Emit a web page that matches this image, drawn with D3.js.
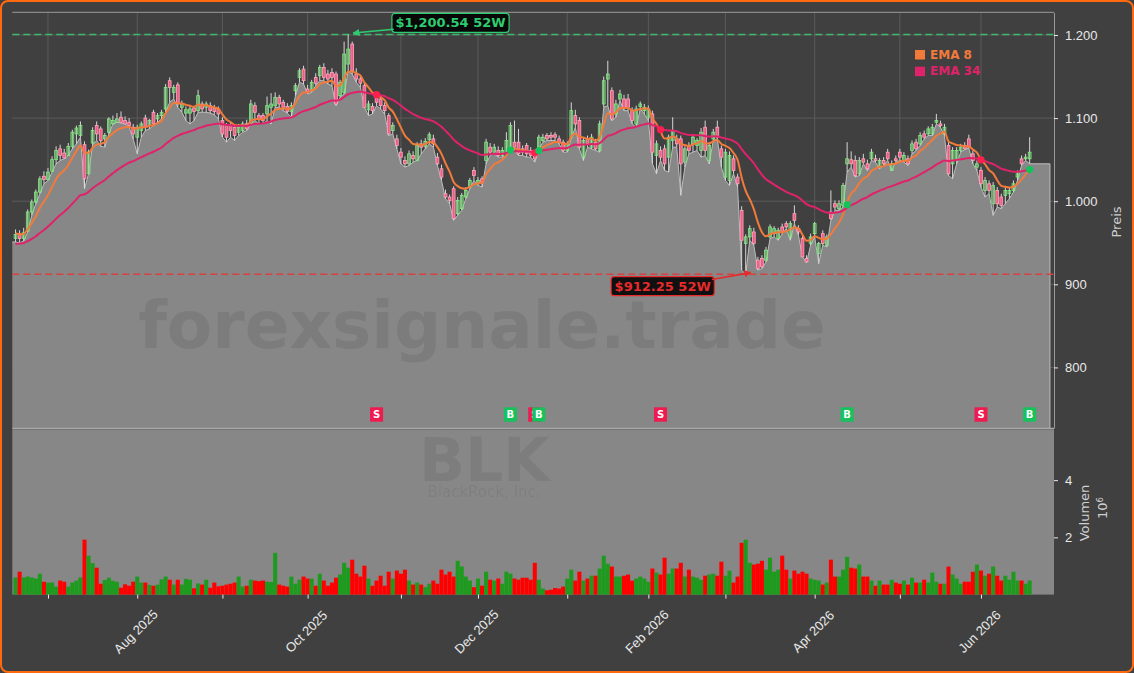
<!DOCTYPE html>
<html>
<head>
<meta charset="utf-8">
<script src="https://cdn.jsdelivr.net/npm/d3@7"></script>
<style>
  html, body { margin: 0; padding: 0; background: #404040; }
  svg { display: block; font-family: 'DejaVu Sans', sans-serif; }
  .axis text { fill: #e8e8e8; font-size: 13px; }
  .axis line { stroke: #e8e8e8; }
  .axisLabel { fill: #cfcfcf; font-size: 13px; }
</style>
</head>
<body>
<svg id="chart"></svg>
<script>
// BLK daily candles, Jun 2025 - Jun 2026 (one entry per trading day)
const opens = [
  955, 961, 955, 964, 987, 999, 1011, 1030, 1026, 1036,
  1050, 1063, 1058, 1055, 1066, 1081, 1079, 1068, 1033, 1070,
  1091, 1087, 1075, 1083, 1093, 1095, 1101, 1097, 1095, 1089,
  1077, 1085, 1100, 1091, 1107, 1099, 1103, 1111, 1145, 1131,
  1140, 1113, 1106, 1106, 1112, 1109, 1117, 1113, 1115, 1112,
  1111, 1097, 1091, 1091, 1089, 1083, 1085, 1093, 1093, 1115,
  1103, 1103, 1105, 1113, 1115, 1125, 1119, 1114, 1108, 1133,
  1149, 1159, 1135, 1133, 1149, 1151, 1161, 1153, 1155, 1153,
  1127, 1131, 1165, 1189, 1153, 1147, 1139, 1110, 1114, 1127,
  1123, 1115, 1103, 1085, 1075, 1059, 1049, 1045, 1055, 1049,
  1069, 1066, 1074, 1075, 1053, 1039, 1009, 1005, 1015, 985,
  991, 1005, 1017, 1037, 1021, 1027, 1049, 1065, 1059, 1061,
  1055, 1057, 1065, 1071, 1071, 1063, 1067, 1061, 1059, 1065,
  1073, 1079, 1079, 1080, 1075, 1071, 1061, 1077, 1103, 1097,
  1053, 1075, 1065, 1071, 1061, 1117, 1147, 1133, 1105, 1123,
  1123, 1123, 1109, 1093, 1114, 1109, 1101, 1105, 1055, 1061,
  1063, 1053, 1073, 1075, 1075, 1047, 1067, 1069, 1067, 1061,
  1089, 1049, 1075, 1089, 1063, 1029, 1025, 1051, 1029, 989,
  949, 957, 963, 929, 931, 929, 957, 961, 955, 969,
  973, 957, 985, 967, 955, 931, 949, 961, 937, 961,
  947, 987, 997, 991, 995, 1045, 1050, 1049, 1033, 1051,
  1045, 1051, 1051, 1041, 1049, 1059, 1037, 1051, 1059, 1049,
  1051, 1061, 1071, 1069, 1081, 1081, 1081, 1095, 1093, 1081,
  1067, 1045, 1049, 1061, 1067, 1075, 1057, 1041, 1037, 1013,
  1021, 997, 1013, 1005, 1007, 1009, 1013, 1029, 1051, 1051,
  1051
];
const highs = [
  966, 965, 968, 990, 1002, 1014, 1030, 1036, 1040, 1054,
  1066, 1068, 1063, 1070, 1086, 1091, 1096, 1072, 1062, 1089,
  1096, 1090, 1082, 1101, 1103, 1106, 1108, 1102, 1100, 1093,
  1092, 1096, 1104, 1099, 1110, 1106, 1110, 1141, 1149, 1140,
  1143, 1121, 1114, 1115, 1115, 1134, 1120, 1120, 1119, 1116,
  1114, 1101, 1094, 1094, 1093, 1093, 1096, 1098, 1122, 1119,
  1106, 1106, 1126, 1130, 1131, 1128, 1122, 1118, 1119, 1142,
  1160, 1163, 1140, 1146, 1154, 1164, 1166, 1158, 1160, 1156,
  1146, 1192, 1200.54, 1192, 1160, 1152, 1143, 1121, 1118, 1132,
  1127, 1119, 1106, 1095, 1080, 1064, 1054, 1061, 1060, 1071,
  1074, 1076, 1083, 1080, 1058, 1044, 1014, 1008, 1018, 1005,
  1010, 1017, 1028, 1041, 1029, 1030, 1075, 1070, 1069, 1066,
  1065, 1083, 1095, 1097, 1087, 1067, 1070, 1065, 1062, 1080,
  1081, 1082, 1083, 1083, 1079, 1074, 1072, 1119, 1110, 1101,
  1077, 1079, 1081, 1075, 1097, 1150, 1169, 1137, 1122, 1134,
  1128, 1129, 1113, 1115, 1120, 1117, 1115, 1109, 1073, 1066,
  1068, 1080, 1101, 1080, 1079, 1066, 1071, 1081, 1076, 1088,
  1097, 1071, 1087, 1097, 1067, 1063, 1060, 1055, 1033, 994,
  960, 971, 968, 933, 935, 945, 972, 970, 968, 973,
  976, 976, 995, 971, 960, 935, 961, 975, 951, 965,
  960, 1013, 1001, 1001, 1022, 1071, 1060, 1055, 1053, 1057,
  1050, 1063, 1056, 1052, 1053, 1063, 1049, 1055, 1063, 1059,
  1055, 1073, 1075, 1083, 1085, 1090, 1093, 1105, 1097, 1093,
  1071, 1065, 1065, 1069, 1071, 1080, 1061, 1049, 1041, 1029,
  1025, 1023, 1017, 1009, 1017, 1017, 1025, 1037, 1055, 1057,
  1077
];
const lows = [
  951, 950, 952, 963, 983, 997, 1009, 1021, 1025, 1035,
  1045, 1049, 1051, 1055, 1063, 1069, 1077, 1015, 1033, 1068,
  1073, 1066, 1065, 1081, 1093, 1095, 1094, 1093, 1089, 1075,
  1057, 1077, 1085, 1087, 1091, 1095, 1099, 1107, 1119, 1123,
  1113, 1107, 1097, 1093, 1097, 1107, 1107, 1107, 1106, 1104,
  1099, 1077, 1071, 1077, 1073, 1079, 1083, 1085, 1093, 1097,
  1093, 1093, 1097, 1093, 1113, 1113, 1109, 1106, 1101, 1127,
  1143, 1141, 1129, 1131, 1139, 1145, 1145, 1141, 1139, 1115,
  1125, 1129, 1157, 1153, 1143, 1137, 1113, 1103, 1105, 1115,
  1111, 1105, 1079, 1081, 1063, 1045, 1041, 1043, 1047, 1049,
  1057, 1063, 1069, 1065, 1043, 1025, 1003, 997, 977, 983,
  989, 1003, 1015, 1025, 1019, 1017, 1045, 1055, 1057, 1053,
  1053, 1055, 1063, 1061, 1055, 1055, 1053, 1053, 1047, 1063,
  1071, 1073, 1073, 1073, 1069, 1059, 1059, 1075, 1089, 1063,
  1049, 1065, 1063, 1061, 1059, 1113, 1115, 1097, 1101, 1121,
  1109, 1109, 1093, 1089, 1111, 1105, 1097, 1045, 1033, 1049,
  1037, 1035, 1065, 1065, 1007, 1041, 1057, 1059, 1061, 1053,
  1055, 1045, 1073, 1075, 1041, 1025, 1019, 1033, 1017, 917,
  912.25, 953, 947, 917, 919, 927, 955, 957, 953, 961,
  967, 953, 973, 959, 933, 926, 947, 957, 925, 947,
  945, 977, 989, 989, 993, 1035, 1041, 1029, 1031, 1045,
  1037, 1049, 1047, 1039, 1043, 1049, 1037, 1047, 1049, 1047,
  1043, 1057, 1061, 1067, 1075, 1079, 1079, 1093, 1089, 1079,
  1031, 1027, 1045, 1059, 1062, 1064, 1045, 1037, 1017, 1005,
  1009, 983, 993, 991, 997, 1003, 1011, 1025, 1043, 1049,
  1045
];
const closes = [
  960, 955, 962, 987, 999, 1011, 1027, 1026, 1035, 1050,
  1061, 1055, 1052, 1066, 1083, 1088, 1091, 1027, 1059, 1085,
  1081, 1073, 1079, 1099, 1097, 1099, 1095, 1093, 1091, 1081,
  1089, 1093, 1089, 1097, 1093, 1103, 1107, 1137, 1137, 1137,
  1117, 1117, 1110, 1111, 1108, 1127, 1111, 1117, 1109, 1108,
  1105, 1081, 1077, 1085, 1079, 1089, 1093, 1087, 1117, 1107,
  1099, 1097, 1115, 1117, 1125, 1117, 1113, 1108, 1115, 1139,
  1157, 1145, 1131, 1143, 1142, 1161, 1149, 1147, 1149, 1117,
  1143, 1177, 1183, 1157, 1147, 1142, 1113, 1117, 1109, 1119,
  1115, 1109, 1081, 1091, 1067, 1053, 1045, 1057, 1051, 1067,
  1065, 1072, 1080, 1069, 1045, 1029, 1005, 1001, 979, 1001,
  1007, 1013, 1025, 1031, 1025, 1023, 1071, 1059, 1065, 1055,
  1061, 1073, 1091, 1065, 1057, 1059, 1057, 1055, 1051, 1077,
  1077, 1075, 1077, 1077, 1071, 1061, 1069, 1109, 1093, 1065,
  1073, 1069, 1077, 1063, 1093, 1145, 1153, 1099, 1117, 1129,
  1113, 1113, 1097, 1111, 1117, 1113, 1111, 1059, 1069, 1053,
  1045, 1077, 1085, 1069, 1045, 1063, 1061, 1077, 1073, 1083,
  1061, 1067, 1083, 1077, 1053, 1059, 1055, 1037, 1021, 953,
  957, 967, 949, 919, 921, 941, 969, 967, 965, 963,
  969, 973, 977, 963, 933, 927, 957, 973, 949, 949,
  957, 979, 993, 997, 1019, 1051, 1045, 1031, 1049, 1047,
  1039, 1059, 1049, 1049, 1045, 1051, 1045, 1049, 1053, 1055,
  1045, 1069, 1063, 1079, 1077, 1087, 1089, 1097, 1091, 1089,
  1033, 1061, 1061, 1065, 1063, 1065, 1049, 1045, 1021, 1025,
  1013, 1019, 997, 995, 1013, 1013, 1021, 1033, 1045, 1053,
  1059
];
// volume in millions of shares
const volumes = [
  0.60, 0.80, 0.60, 0.63, 0.60, 0.56, 0.73, 0.45, 0.42, 0.42,
  0.28, 0.49, 0.45, 0.28, 0.42, 0.49, 0.60, 1.92, 1.36, 1.10,
  0.94, 0.38, 0.51, 0.59, 0.48, 0.45, 0.24, 0.36, 0.31, 0.45,
  0.63, 0.42, 0.42, 0.34, 0.31, 0.35, 0.53, 0.63, 0.52, 0.35,
  0.52, 0.35, 0.55, 0.52, 0.22, 0.39, 0.35, 0.52, 0.24, 0.42,
  0.29, 0.31, 0.35, 0.38, 0.42, 0.63, 0.28, 0.31, 0.52, 0.49,
  0.47, 0.49, 0.45, 0.44, 1.46, 0.35, 0.31, 0.28, 0.63, 0.38,
  0.52, 0.63, 0.56, 0.56, 0.31, 0.73, 0.49, 0.31, 0.42, 0.59,
  0.70, 1.11, 0.94, 1.22, 0.73, 0.63, 1.01, 0.56, 0.31, 0.49,
  0.66, 0.31, 0.80, 0.56, 0.84, 0.73, 0.87, 0.49, 0.35, 0.42,
  0.35, 0.26, 0.38, 0.49, 0.38, 0.87, 0.70, 0.80, 0.63, 1.18,
  0.98, 0.63, 0.49, 0.26, 0.56, 0.31, 0.80, 0.52, 0.49, 0.56,
  0.38, 0.80, 0.73, 0.56, 0.52, 0.59, 0.59, 0.52, 1.11, 0.52,
  0.21, 0.15, 0.17, 0.23, 0.21, 0.28, 0.56, 0.87, 0.49, 0.80,
  0.49, 0.56, 0.66, 0.66, 0.91, 1.36, 1.08, 0.98, 0.63, 0.63,
  0.66, 0.70, 0.49, 0.56, 0.63, 0.56, 0.45, 0.91, 0.77, 0.70,
  1.29, 0.73, 0.91, 0.91, 1.11, 0.63, 0.87, 0.63, 0.59, 0.52,
  0.66, 0.70, 0.73, 0.66, 1.15, 0.66, 0.84, 0.42, 0.63, 1.81,
  1.92, 1.11, 1.05, 1.08, 1.18, 0.87, 1.29, 0.80, 0.87, 1.36,
  0.87, 0.56, 0.84, 0.73, 0.80, 0.73, 0.56, 0.52, 0.49, 0.35,
  0.42, 1.22, 0.63, 0.63, 0.87, 1.32, 0.94, 0.91, 1.05, 0.63,
  0.63, 0.49, 0.31, 0.49, 0.35, 0.35, 0.52, 0.42, 0.38, 0.49,
  0.35, 0.59, 0.42, 0.42, 0.52, 0.42, 0.77, 0.45, 0.38, 0.38,
  0.98, 0.70, 0.56, 0.38, 0.45, 0.45, 0.80, 1.05, 0.84, 0.66,
  0.73, 0.98, 0.66, 0.49, 0.66, 0.52, 0.80, 0.49, 0.49, 0.38,
  0.49
];

const priceTicks = [800, 900, 1000, 1100, 1200];
const volumeTicks = [2, 4];
// index of the first trading day of each month
const monthTickIdx = [8, 30, 51, 72, 95, 114, 136, 156, 175, 197, 218, 238];
const monthTickLabels = ['', 'Aug 2025', '', 'Oct 2025', '', 'Dec 2025', '', 'Feb 2026', '', 'Apr 2026', '', 'Jun 2026'];

const emaNames = ['EMA 8', 'EMA 34'];
const emaPeriods = [8, 34];
const emaSeeds = [962, 948];
const emaColors = ['#f27a3a', '#e0226a'];

const signalIdx = [89, 122, 128, 129, 159, 205, 238, 250];
const signalTypes = ['S', 'B', 'S', 'B', 'S', 'B', 'S', 'B'];

const extremeLabels = ['$1,200.54 52W', '$912.25 52W'];
const extremeValues = [1200.54, 912.25];
const extremeIdx = [82, 180];

class CandleChart {
    constructor(_config, _data) {
        this.config = {
            parentElement: _config.parentElement,
            containerWidth: _config.containerWidth || 1134,
            containerHeight: _config.containerHeight || 673,
            price: { left: 12.3, right: 1054, top: 12.3, bottom: 428 },
            volume: { top: 429.5, bottom: 594.6 },
            futureDays: 5
        };
        this.data = _data;
        this.initVis();
    }

    initVis() {
        let vis = this;
        const p = vis.config.price;

        vis.xScale = d3.scaleLinear()
            .domain([-0.8, 256])
            .range([p.left, p.right]);

        vis.yScale = d3.scaleLinear()
            .domain([727.1, 1227.3])
            .range([p.bottom, p.top]);

        vis.vScale = d3.scaleLinear()
            .domain([0, 5.77])
            .range([vis.config.volume.bottom, vis.config.volume.top]);

        vis.svg = d3.select(vis.config.parentElement)
            .attr('width', vis.config.containerWidth)
            .attr('height', vis.config.containerHeight);

        vis.svg.append('rect')
            .attr('x', 1).attr('y', 1)
            .attr('width', vis.config.containerWidth - 2)
            .attr('height', vis.config.containerHeight - 2)
            .attr('rx', 7)
            .attr('fill', '#404040')
            .attr('stroke', '#ff6a10')
            .attr('stroke-width', 2);

        vis.svg.append('defs').selectAll('marker')
            .data([['arrowGreen', '#2ecc71'], ['arrowRed', '#e52b2b']])
            .join('marker')
            .attr('id', d => d[0])
            .attr('viewBox', '0 0 10 10')
            .attr('refX', 9).attr('refY', 5)
            .attr('markerWidth', 7).attr('markerHeight', 7)
            .attr('markerUnits', 'userSpaceOnUse')
            .attr('orient', 'auto')
            .append('path')
            .attr('d', 'M0,0 L10,5 L0,10 z')
            .attr('fill', d => d[1]);

        vis.chart = vis.svg.append('g');

        vis.updateVis();
    }

    updateVis() {
        let vis = this;

        vis.emas = emaPeriods.map((period, k) => {
            const alpha = 2 / (period + 1);
            let prev = emaSeeds[k];
            return vis.data.map(d => (prev = prev + alpha * (d.close - prev)));
        });

        vis.renderVis();
    }

    renderVis() {
        let vis = this;
        const p = vis.config.price;
        const v = vis.config.volume;
        const x = vis.xScale, y = vis.yScale;
        const step = x(1) - x(0);
        const n = vis.data.length;

        // grid
        vis.chart.append('g').selectAll('line.vgrid')
            .data(monthTickIdx)
            .join('line')
            .attr('x1', d => x(d)).attr('x2', d => x(d))
            .attr('y1', p.top).attr('y2', p.bottom)
            .attr('stroke', '#5a5a5a');
        vis.chart.append('g').selectAll('line.hgrid')
            .data(priceTicks)
            .join('line')
            .attr('x1', p.left).attr('x2', p.right)
            .attr('y1', d => y(d)).attr('y2', d => y(d))
            .attr('stroke', '#5a5a5a');

        // area under the lows, carried flat a few days past the last bar
        const areaPts = [{ i: x.domain()[0], v: vis.data[0].low }]
            .concat(vis.data.map((d, i) => ({ i: i, v: d.low })))
            .concat([{ i: n - 1 + vis.config.futureDays, v: vis.data[n - 1].low }]);
        vis.chart.append('path')
            .datum(areaPts)
            .attr('d', d3.area().x(d => x(d.i)).y0(p.bottom).y1(d => y(d.v)))
            .attr('fill', '#878787');
        const edge = areaPts.concat([{ i: areaPts[areaPts.length - 1].i, v: y.domain()[0] }]);
        vis.chart.append('path')
            .datum(edge)
            .attr('d', d3.line().x(d => x(d.i)).y(d => y(d.v)))
            .attr('fill', 'none')
            .attr('stroke', '#bdbdbd')
            .attr('stroke-width', 1);

        vis.chart.append('text')
            .attr('x', 482).attr('y', 348)
            .attr('text-anchor', 'middle')
            .attr('font-size', 66).attr('font-weight', 'bold')
            .attr('fill', 'rgba(0,0,0,0.08)')
            .text('forexsignale.trade');

        // frame
        vis.chart.append('line')
            .attr('x1', p.left).attr('x2', p.right).attr('y1', p.top).attr('y2', p.top)
            .attr('stroke', '#9a9a9a');

        // 52 week lines
        vis.chart.selectAll('line.extreme')
            .data(extremeValues)
            .join('line')
            .attr('x1', p.left).attr('x2', p.right)
            .attr('y1', d => y(d)).attr('y2', d => y(d))
            .attr('stroke', (d, i) => i === 0 ? '#3cb96a' : '#d94040')
            .attr('stroke-width', 1.5)
            .attr('stroke-dasharray', '7,4');

        // candles
        const candles = vis.chart.append('g');
        candles.selectAll('line')
            .data(vis.data)
            .join('line')
            .attr('x1', (d, i) => x(i)).attr('x2', (d, i) => x(i))
            .attr('y1', d => y(d.high)).attr('y2', d => y(d.low))
            .attr('stroke', '#d6d6d6')
            .attr('stroke-width', 1);
        candles.selectAll('rect')
            .data(vis.data)
            .join('rect')
            .attr('x', (d, i) => x(i) - 1.4)
            .attr('width', 2.8)
            .attr('y', d => y(Math.max(d.open, d.close)))
            .attr('height', d => Math.max(0.8, Math.abs(y(d.open) - y(d.close))))
            .attr('fill', d => d.close >= d.open ? 'rgba(110,200,110,0.35)' : '#ee5d86')
            .attr('stroke', d => d.close >= d.open ? '#7ef07e' : '#ffa7bd')
            .attr('stroke-width', 0.8);

        // EMA lines
        vis.emas.forEach((series, k) => {
            vis.chart.append('path')
                .datum(series)
                .attr('d', d3.line().x((d, i) => x(i)).y(d => y(d)).curve(d3.curveMonotoneX))
                .attr('fill', 'none')
                .attr('stroke', emaColors[k])
                .attr('stroke-width', 2);
        });

        // crossover dots and signal boxes
        vis.chart.selectAll('circle.sig')
            .data(signalIdx)
            .join('circle')
            .attr('cx', d => x(d))
            .attr('cy', d => y((vis.emas[0][d] + vis.emas[1][d]) / 2))
            .attr('r', 3.6)
            .attr('fill', (d, i) => signalTypes[i] === 'B' ? '#12c25a' : '#ff1f4f');

        const sig = vis.chart.append('g').selectAll('g')
            .data(signalIdx)
            .join('g')
            .attr('transform', d => `translate(${x(d)}, 414.5)`);
        sig.append('rect')
            .attr('x', -6.5).attr('y', -7.2)
            .attr('width', 13).attr('height', 14.4)
            .attr('fill', (d, i) => signalTypes[i] === 'B' ? '#15c25c' : '#ef1a4f');
        sig.append('text')
            .attr('text-anchor', 'middle').attr('dy', '0.36em')
            .attr('font-size', 10).attr('font-weight', 'bold')
            .attr('fill', '#ffffff')
            .text((d, i) => signalTypes[i]);

        // 52 week annotations
        const labelPos = [[450.5, 22.8, 393.8, 29.2], [662.7, 286.2, 711.8, 279.5]];
        const labelColors = ['#2ecc71', '#e52b2b'];
        extremeLabels.forEach((label, k) => {
            const g = vis.chart.append('g');
            const t = g.append('text')
                .attr('x', labelPos[k][0]).attr('y', labelPos[k][1])
                .attr('text-anchor', 'middle').attr('dy', '0.36em')
                .attr('font-size', 13).attr('font-weight', 'bold')
                .attr('fill', labelColors[k])
                .text(label);
            const bb = t.node().getBBox();
            g.insert('rect', 'text')
                .attr('x', bb.x - 3.5).attr('y', labelPos[k][1] - 9.5)
                .attr('width', bb.width + 7).attr('height', 19)
                .attr('rx', 3)
                .attr('fill', 'rgba(0,0,0,0.88)')
                .attr('stroke', labelColors[k])
                .attr('stroke-width', 1.2);
            g.append('line')
                .attr('x1', labelPos[k][2]).attr('y1', labelPos[k][3])
                .attr('x2', x(extremeIdx[k]) + 5).attr('y2', y(extremeValues[k]) - 1.5)
                .attr('stroke', labelColors[k])
                .attr('stroke-width', 1.6)
                .attr('marker-end', k === 0 ? 'url(#arrowGreen)' : 'url(#arrowRed)');
        });

        // legend
        const legend = vis.chart.append('g').selectAll('g')
            .data(emaNames)
            .join('g')
            .attr('transform', (d, i) => `translate(915, ${50 + i * 16.7})`);
        legend.append('rect')
            .attr('width', 10).attr('height', 9.5)
            .attr('fill', (d, i) => emaColors[i]);
        legend.append('text')
            .attr('x', 15).attr('y', 8.6)
            .attr('font-size', 12).attr('font-weight', 'bold')
            .attr('fill', (d, i) => emaColors[i])
            .text(d => d);

        // price axis
        const yAxisG = vis.chart.append('g')
            .attr('class', 'axis')
            .attr('transform', `translate(${p.right}, 0)`)
            .call(d3.axisRight(y).tickValues(priceTicks).tickSize(4).tickSizeOuter(0).tickPadding(7)
                .tickFormat(d => d3.format(',')(d).replace(/,/g, '.')));
        yAxisG.select('.domain').attr('stroke', '#9a9a9a');

        vis.chart.append('text')
            .attr('class', 'axisLabel')
            .attr('transform', 'translate(1116, 222) rotate(-90)')
            .attr('text-anchor', 'middle').attr('dy', '0.35em')
            .text('Preis');

        // volume panel
        vis.chart.append('rect')
            .attr('x', p.left).attr('y', v.top)
            .attr('width', p.right - p.left).attr('height', v.bottom - v.top)
            .attr('fill', '#878787');
        vis.chart.append('line')
            .attr('x1', p.left).attr('x2', p.right).attr('y1', p.bottom + 0.6).attr('y2', p.bottom + 0.6)
            .attr('stroke', '#a9a9a9').attr('stroke-width', 1.5);

        vis.chart.append('text')
            .attr('x', 484.5).attr('y', 481)
            .attr('text-anchor', 'middle')
            .attr('font-size', 60).attr('font-weight', 'bold')
            .attr('fill', 'rgba(0,0,0,0.07)')
            .text('BLK');
        vis.chart.append('text')
            .attr('x', 484).attr('y', 497)
            .attr('text-anchor', 'middle')
            .attr('font-size', 15)
            .attr('fill', 'rgba(0,0,0,0.07)')
            .text('BlackRock, Inc.');

        vis.chart.append('g').selectAll('rect')
            .data(vis.data)
            .join('rect')
            .attr('x', (d, i) => x(i) - step / 2)
            .attr('width', step)
            .attr('y', d => vis.vScale(d.volume))
            .attr('height', d => v.bottom - vis.vScale(d.volume))
            .attr('fill', d => d.close >= d.open ? '#1e9a1e' : '#ff0000');

        const vAxisG = vis.chart.append('g')
            .attr('class', 'axis')
            .attr('transform', `translate(${p.right}, 0)`)
            .call(d3.axisRight(vis.vScale).tickValues(volumeTicks).tickSize(4).tickSizeOuter(0).tickPadding(7)
                .tickFormat(d3.format('d')));
        vAxisG.select('.domain').remove();

        vis.chart.append('text')
            .attr('class', 'axisLabel')
            .attr('transform', 'translate(1084, 513) rotate(-90)')
            .attr('text-anchor', 'middle').attr('dy', '0.35em')
            .text('Volumen');
        const exp = vis.chart.append('text')
            .attr('class', 'axisLabel')
            .attr('transform', 'translate(1102, 508) rotate(-90)')
            .attr('text-anchor', 'middle').attr('dy', '0.35em')
            .attr('font-size', 12);
        exp.append('tspan').text('10');
        exp.append('tspan').attr('dy', '-0.45em').attr('font-size', 8.5).text('6');

        // time axis
        const xAxisG = vis.chart.append('g')
            .attr('class', 'axis')
            .attr('transform', `translate(0, ${v.bottom})`)
            .call(d3.axisBottom(x).tickValues(monthTickIdx).tickSize(4).tickSizeOuter(0)
                .tickFormat((d, i) => monthTickLabels[i]));
        xAxisG.select('.domain').remove();
        xAxisG.selectAll('text')
            .attr('x', 0).attr('y', 0)
            .attr('dy', '0.35em')
            .attr('text-anchor', 'middle')
            .attr('transform', 'translate(-2, 37) rotate(-45)');
    }
}

const chartData = closes.map((c, i) => ({
    open: opens[i], high: highs[i], low: lows[i], close: c, volume: volumes[i]
}));

new CandleChart({ parentElement: '#chart' }, chartData);
</script>
</body>
</html>
